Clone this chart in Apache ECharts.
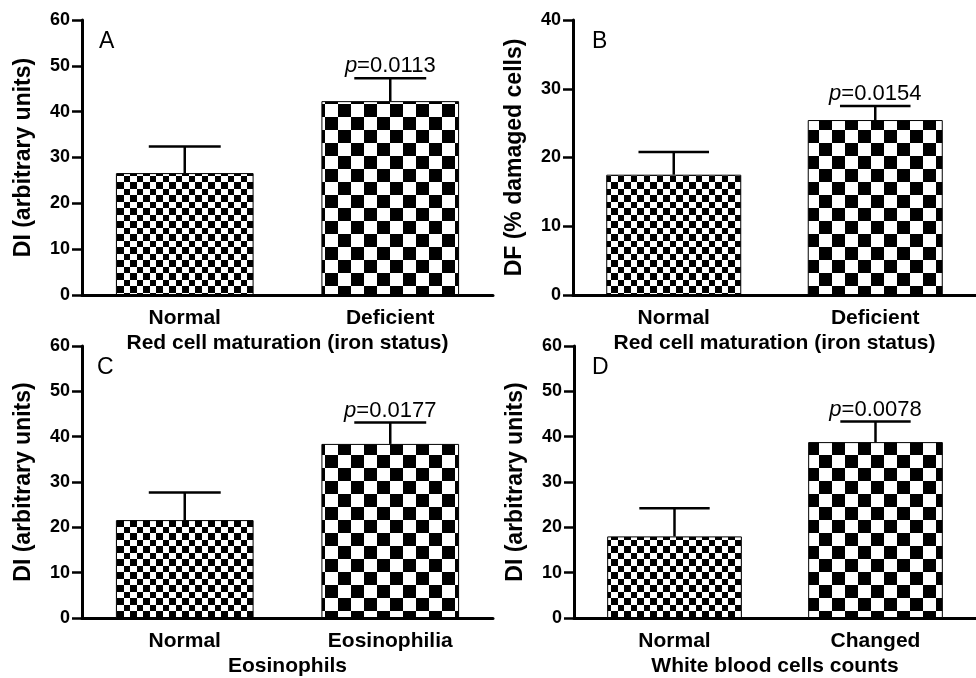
<!DOCTYPE html>
<html>
<head>
<meta charset="utf-8">
<script src="https://cdn.jsdelivr.net/npm/echarts@6/dist/echarts.min.js"></script>
<style>
  html, body { margin: 0; padding: 0; background: #fff; }
  #chart { width: 976px; height: 678px; }
</style>
</head>
<body>
<div id="chart"></div>
<script>
// Panel A: DI by red cell maturation (iron status)
const categoriesA = ['Normal', 'Deficient'];
const meansA = [26.6, 42.3];
const errorsA = [5.8, 5.0];
const pValueA = '0.0113';

// Panel B: DF by red cell maturation (iron status)
const categoriesB = ['Normal', 'Deficient'];
const meansB = [17.5, 25.45];
const errorsB = [3.3, 2.05];
const pValueB = '0.0154';

// Panel C: DI by eosinophils
const categoriesC = ['Normal', 'Eosinophilia'];
const meansC = [21.6, 38.4];
const errorsC = [6.1, 4.7];
const pValueC = '0.0177';

// Panel D: DI by white blood cell counts
const categoriesD = ['Normal', 'Changed'];
const meansD = [18.0, 38.8];
const errorsD = [6.2, 4.55];
const pValueD = '0.0078';

const yTicksA = [0, 10, 20, 30, 40, 50, 60];
const yTicksB = [0, 10, 20, 30, 40];

const FONT = 'Liberation Sans';

// Checkerboard fills: fine squares for the reference group, coarse for the other
function checker(edges) {
  const size = edges[edges.length - 1];
  const c = document.createElement('canvas');
  c.width = size; c.height = size;
  const ctx = c.getContext('2d');
  ctx.fillStyle = '#fff';
  ctx.fillRect(0, 0, size, size);
  ctx.fillStyle = '#000';
  for (let i = 0; i < edges.length - 1; i++) {
    for (let j = 0; j < edges.length - 1; j++) {
      if ((i + j) % 2 === 0) {
        ctx.fillRect(edges[i], edges[j], edges[i + 1] - edges[i], edges[j + 1] - edges[j]);
      }
    }
  }
  return { image: c, repeat: 'repeat' };
}
const fineFill = checker([0, 7, 13, 20, 26]);
const coarseFill = checker([0, 13, 26]);

const panels = [
  { cats: categoriesA, means: meansA, errs: errorsA, p: pValueA, ticks: yTicksA,
    yName: 'DI (arbitrary units)', xName: 'Red cell maturation (iron status)',
    grid: { left: 82, top: 20, width: 411, height: 275 } },
  { cats: categoriesB, means: meansB, errs: errorsB, p: pValueB, ticks: yTicksB,
    yName: 'DF (% damaged cells)', xName: 'Red cell maturation (iron status)',
    grid: { left: 573, top: 20, width: 411, height: 275 } },
  { cats: categoriesC, means: meansC, errs: errorsC, p: pValueC, ticks: yTicksA,
    yName: 'DI (arbitrary units)', xName: 'Eosinophils',
    grid: { left: 82, top: 346, width: 411, height: 276 } },
  { cats: categoriesD, means: meansD, errs: errorsD, p: pValueD, ticks: yTicksA,
    yName: 'DI (arbitrary units)', xName: 'White blood cells counts',
    grid: { left: 574, top: 346, width: 411, height: 276 } }
];
const panelLetters = ['A', 'B', 'C', 'D'];
const letterPos = [[99, 30], [592, 30], [97, 356], [592, 356]];

const grids = [], xAxes = [], yAxes = [], series = [];

panels.forEach((pn, k) => {
  grids.push(Object.assign({ containLabel: false }, pn.grid));
  xAxes.push({
    type: 'category', gridIndex: k, data: pn.cats,
    axisLine: { lineStyle: { color: '#000', width: 3 } },
    axisTick: { show: false },
    axisLabel: { color: '#000', fontFamily: FONT, fontWeight: 'bold', fontSize: 21, margin: 13 },
    name: pn.xName, nameLocation: 'middle', nameGap: 38,
    nameTextStyle: { color: '#000', fontFamily: FONT, fontWeight: 'bold', fontSize: 21 }
  });
  yAxes.push({
    type: 'value', gridIndex: k,
    min: pn.ticks[0], max: pn.ticks[pn.ticks.length - 1], interval: pn.ticks[1] - pn.ticks[0],
    splitLine: { show: false },
    axisLine: { show: true, lineStyle: { color: '#000', width: 3 } },
    axisTick: { show: true, length: 10, lineStyle: { color: '#000', width: 2.5 } },
    axisLabel: { color: '#000', fontFamily: FONT, fontWeight: 'bold', fontSize: 18, margin: 12 },
    name: pn.yName, nameLocation: 'middle', nameGap: 47,
    nameTextStyle: { color: '#000', fontFamily: FONT, fontWeight: 'bold', fontSize: 23 }
  });
  series.push({
    type: 'bar', xAxisIndex: k, yAxisIndex: k, barWidth: '67%',
    data: pn.means.map((v, i) => ({
      value: v,
      itemStyle: { color: i === 0 ? fineFill : coarseFill, borderColor: '#000', borderWidth: 1 }
    })),
    silent: true, z: 2
  });
  series.push({
    type: 'custom', xAxisIndex: k, yAxisIndex: k, z: 3, clip: false, silent: true,
    data: pn.means.map((v, i) => [i, v, pn.errs[i]]),
    encode: { x: 0, y: 1 },
    renderItem: function (params, api) {
      const i = api.value(0), m = api.value(1), e = api.value(2);
      const base = api.coord([i, m]);
      const top = api.coord([i, m + e]);
      const half = api.size([1, 0])[0] * 0.175;
      const line = { stroke: '#000', lineWidth: 2.5 };
      const children = [
        { type: 'line', shape: { x1: base[0], y1: base[1], x2: top[0], y2: top[1] }, style: line },
        { type: 'line', shape: { x1: top[0] - half, y1: top[1], x2: top[0] + half, y2: top[1] }, style: line }
      ];
      if (i === 1) {
        children.push({
          type: 'text',
          style: {
            x: top[0], y: top[1] - 1, text: '{it|p}=' + pn.p,
            align: 'center', verticalAlign: 'bottom',
            fill: '#000', fontFamily: FONT, fontSize: 22,
            rich: { it: { fontStyle: 'italic', fontFamily: FONT, fontSize: 22, fill: '#000' } }
          }
        });
      }
      return { type: 'group', children: children };
    }
  });
});

const chart = echarts.init(document.getElementById('chart'), null, { renderer: 'canvas' });
chart.setOption({
  backgroundColor: '#fff',
  animation: false,
  grid: grids,
  xAxis: xAxes,
  yAxis: yAxes,
  series: series,
  graphic: panelLetters.map((t, k) => ({
    type: 'text', left: letterPos[k][0], top: letterPos[k][1],
    style: { text: t, fill: '#000', fontFamily: FONT, fontSize: 23 }
  }))
});
</script>
</body>
</html>
